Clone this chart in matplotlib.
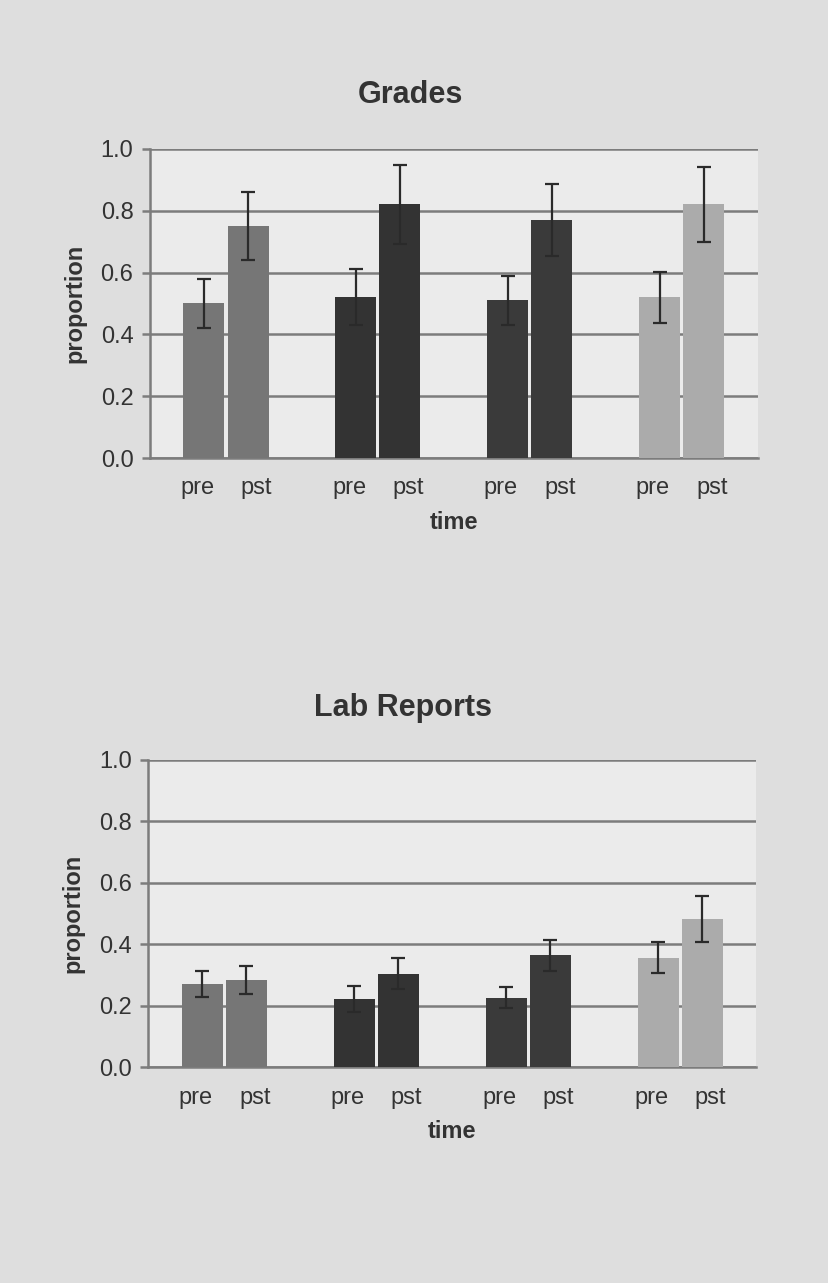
import numpy as np
import matplotlib.pyplot as plt

plt.rcParams['font.family'] = ['Liberation Sans', 'DejaVu Sans']

time_labels = ['pre', 'pst']
group_colors = ['#767676', '#333333', '#3a3a3a', '#ababab']

grades_mean = [0.50, 0.75, 0.52, 0.82, 0.51, 0.77, 0.52, 0.82]
grades_err = [0.08, 0.11, 0.09, 0.127, 0.08, 0.115, 0.083, 0.12]

lab_mean = [0.27, 0.285, 0.223, 0.304, 0.227, 0.364, 0.357, 0.482]
lab_err = [0.042, 0.045, 0.042, 0.05, 0.035, 0.05, 0.05, 0.075]

page_bg = '#dedede'
plot_bg = '#ebebeb'
grid_col = '#7c7c7c'
text_col = '#333333'


def draw_panel(ax, means, errs, title, title_x, title_y):
    ax.set_facecolor(plot_bg)
    groups = np.arange(4)
    offs = 0.145
    w = 0.27
    xs = np.ravel(np.column_stack([groups - offs, groups + offs]))
    cols = np.repeat(group_colors, 2)
    ax.bar(xs, means, width=w, color=cols, edgecolor='none', zorder=3)
    ax.errorbar(xs, means, yerr=errs, fmt='none', ecolor='#2a2a2a',
                elinewidth=1.6, capsize=5, capthick=1.6, zorder=4)
    ax.set_xlim(-0.5, 3.5)
    ax.set_ylim(0, 1.0)
    ax.set_yticks(np.arange(0, 1.01, 0.2))
    ax.set_yticklabels(['%.1f' % v for v in np.arange(0, 1.01, 0.2)])
    ax.yaxis.grid(True, color=grid_col, linewidth=1.8, zorder=1)
    ax.set_axisbelow(True)
    tick_x = np.ravel(np.column_stack([groups - 0.19, groups + 0.2]))
    ax.set_xticks(tick_x)
    ax.set_xticklabels(time_labels * 4)
    for s in ['top', 'right']:
        ax.spines[s].set_visible(False)
    for s in ['left', 'bottom']:
        ax.spines[s].set_color(grid_col)
        ax.spines[s].set_linewidth(1.8)
    ax.tick_params(axis='y', length=6, width=1.8, color=grid_col,
                   labelsize=17, labelcolor=text_col, pad=6)
    ax.tick_params(axis='x', length=0, labelsize=17, labelcolor=text_col, pad=14)
    ax.set_ylabel('proportion', fontsize=17, fontweight='bold',
                  color=text_col, labelpad=10)
    ax.set_xlabel('time', fontsize=17, fontweight='bold',
                  color=text_col, labelpad=8)
    fig.text(title_x, title_y, title, fontsize=22, fontweight='bold',
             color=text_col, ha='center', va='center')


fig = plt.figure(figsize=(8.29, 12.83), dpi=100, facecolor=page_bg)
ax1 = fig.add_axes([0.181, 0.643, 0.733, 0.241])
ax2 = fig.add_axes([0.179, 0.168, 0.733, 0.240])

draw_panel(ax1, grades_mean, grades_err, 'Grades', 410 / 829, 1 - 95 / 1283)
draw_panel(ax2, lab_mean, lab_err, 'Lab Reports', 403 / 829, 1 - 708 / 1283)

fig.savefig('out.png', dpi=100, facecolor=page_bg)
